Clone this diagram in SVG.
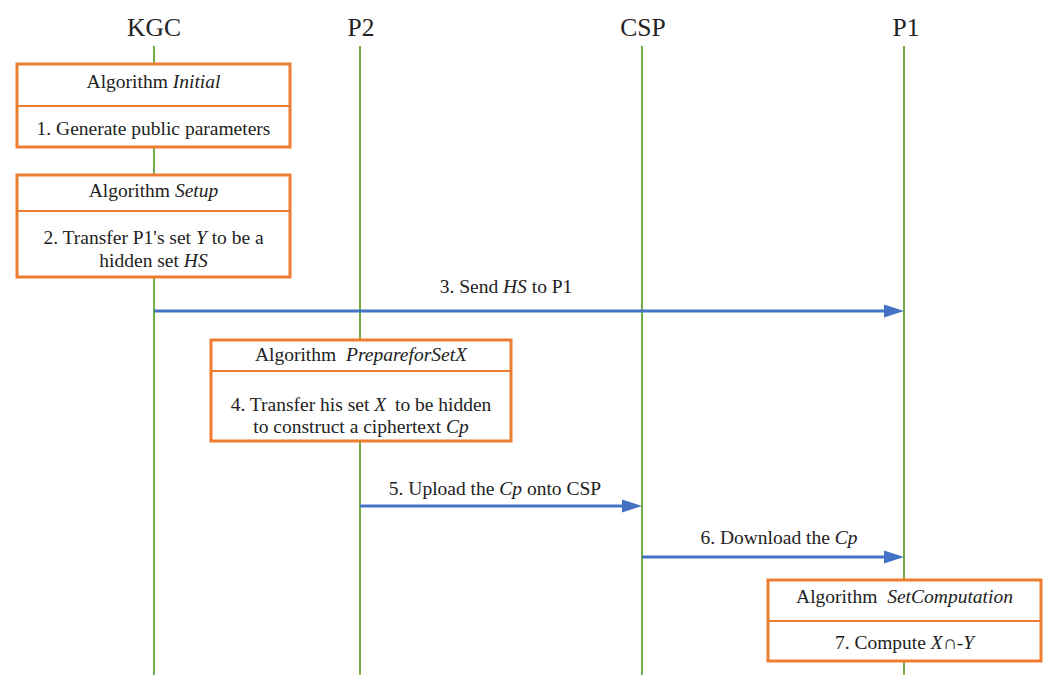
<svg xmlns="http://www.w3.org/2000/svg" width="1049" height="675" viewBox="0 0 1049 675" font-family="Liberation Serif, serif">
  <style>
    .life { stroke: #70AD47; stroke-width: 2; fill: none; }
    .head { font-size: 25.5px; fill: #222; text-anchor: middle; }
    .box { fill: #ffffff; stroke: #ED7D31; stroke-width: 3; }
    .div { stroke: #ED7D31; stroke-width: 2; }
    .lbl { font-size: 19.5px; fill: #222; text-anchor: middle; }
    .it { font-style: italic; }
    .msg { stroke: #4472C4; stroke-width: 3; fill: none; }
  </style>
  <defs>
    <marker id="arrow" markerUnits="userSpaceOnUse" markerWidth="20" markerHeight="14" refX="10" refY="7" orient="auto">
      <path d="M0,0.5 L20,7 L0,13.5 z" fill="#4472C4"/>
    </marker>
  </defs>
  <rect width="1049" height="675" fill="#ffffff"/>

  <!-- participants and lifelines -->
  <g id="lifelines">
    <text class="head" x="154" y="36">KGC</text>
    <text class="head" x="361" y="36">P2</text>
    <text class="head" x="643" y="36">CSP</text>
    <text class="head" x="906" y="36">P1</text>
    <line class="life" x1="154" y1="46" x2="154" y2="675"/>
    <line class="life" x1="360" y1="46" x2="360" y2="675"/>
    <line class="life" x1="642" y1="46" x2="642" y2="675"/>
    <line class="life" x1="904" y1="46" x2="904" y2="675"/>
  </g>

  <!-- messages -->
  <g id="connectors">
    <line class="msg" x1="154" y1="311" x2="894" y2="311" marker-end="url(#arrow)"/>
    <text class="lbl" x="506" y="293">3. Send <tspan class="it">HS</tspan> to P1</text>
    <line class="msg" x1="360" y1="506" x2="632" y2="506" marker-end="url(#arrow)"/>
    <text class="lbl" x="495" y="495">5. Upload the <tspan class="it">Cp</tspan> onto CSP</text>
    <line class="msg" x1="642" y1="557" x2="894" y2="557" marker-end="url(#arrow)"/>
    <text class="lbl" x="779" y="544">6. Download the <tspan class="it">Cp</tspan></text>
  </g>

  <g id="initial">
    <rect class="box" x="17" y="64" width="273" height="83"/>
    <line class="div" x1="17" y1="106" x2="290" y2="106"/>
    <text class="lbl" x="153.5" y="88">Algorithm <tspan class="it">Initial</tspan></text>
    <text class="lbl" x="153.5" y="135">1. Generate public parameters</text>
  </g>

  <g id="setup">
    <rect class="box" x="17" y="175" width="273" height="102"/>
    <line class="div" x1="17" y1="211" x2="290" y2="211"/>
    <text class="lbl" x="153.5" y="197">Algorithm <tspan class="it">Setup</tspan></text>
    <text class="lbl" x="153.5" y="244">2. Transfer P1's set <tspan class="it">Y</tspan> to be a</text>
    <text class="lbl" x="153.5" y="267">hidden set <tspan class="it">HS</tspan></text>
  </g>

  <g id="prepare">
    <rect class="box" x="211" y="340" width="300" height="101"/>
    <line class="div" x1="211" y1="371" x2="511" y2="371"/>
    <text class="lbl" x="361" y="361">Algorithm <tspan class="it" dx="5">PrepareforSetX</tspan></text>
    <text class="lbl" x="361" y="411">4. Transfer his set <tspan class="it">X</tspan> <tspan dx="4">to be hidden</tspan></text>
    <text class="lbl" x="361" y="433">to construct a ciphertext <tspan class="it">Cp</tspan></text>
  </g>

  <g id="computation">
    <rect class="box" x="768" y="580" width="273" height="81"/>
    <line class="div" x1="768" y1="621" x2="1041" y2="621"/>
    <text class="lbl" x="904.5" y="603">Algorithm <tspan class="it" dx="5">SetComputation</tspan></text>
    <text class="lbl" x="904.5" y="649">7. Compute <tspan class="it">X</tspan>∩-<tspan class="it">Y</tspan></text>
  </g>
</svg>
